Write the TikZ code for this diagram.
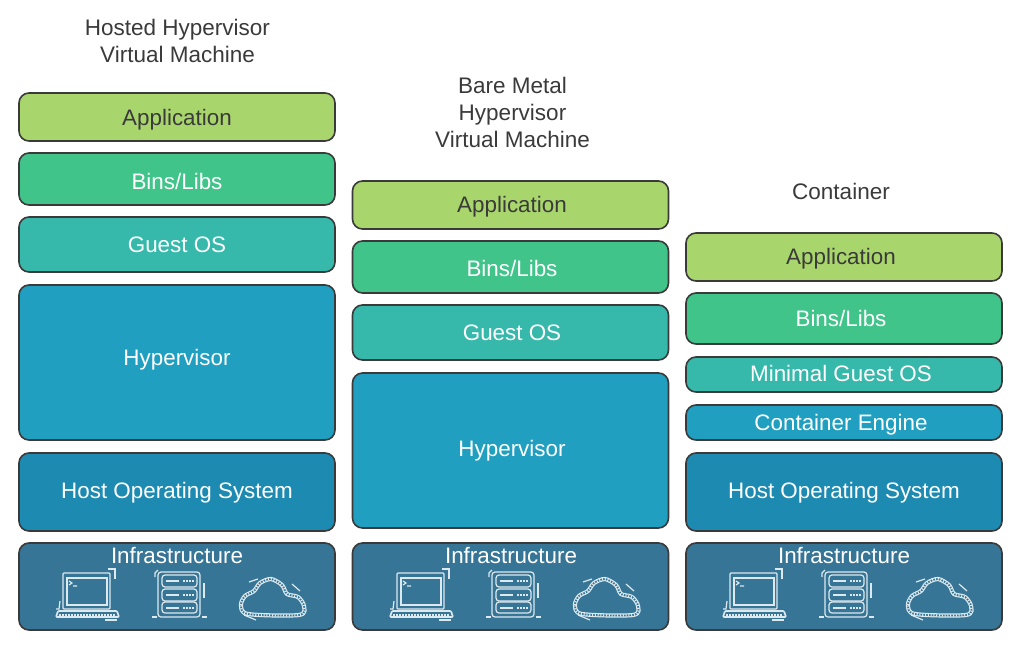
\documentclass[tikz,border=0pt]{standalone}
\usepackage{fontspec}
\setmainfont{Liberation Sans}
\definecolor{appgreen}{HTML}{A9D66C}
\definecolor{binsgreen}{HTML}{40C48A}
\definecolor{guestteal}{HTML}{36B9AB}
\definecolor{hyperblue}{HTML}{209FC0}
\definecolor{hostblue}{HTML}{1D8AB2}
\definecolor{infrablue}{HTML}{367596}
\definecolor{edgegray}{HTML}{3A3A3A}
\definecolor{icongray}{HTML}{DCE9EE}
\tikzset{
  stackbox/.style={draw=edgegray, line width=1.6pt, rounded corners=10pt, minimum width=316pt, text=white, font=\fontsize{22.4}{27}\selectfont, text height=16pt, text depth=5pt, inner sep=0pt},
  title/.style={text=edgegray, align=center, font=\fontsize{22.5}{27}\selectfont},
  iconline/.style={draw=icongray, line width=1.2pt},
  pics/laptopicon/.style={code={
    \draw[iconline, rounded corners=1pt] (8,5) rectangle (55,41);
    \draw[iconline] (12,10) rectangle (52,37);
    \draw[iconline] (14,13) -- (17,15) -- (14,17) (18,18) -- (22,18);
    \draw[iconline, line width=1.6pt, rounded corners=1pt] (1,49) -- (3,43) -- (62,43) -- (64,49) -- cycle;
    \draw[icongray, line width=1.8pt, dash pattern=on 1.5pt off 1.5pt] (4,47) -- (61,47);
    \draw[iconline] (53,1) -- (60,1) -- (60,11);
    \draw[iconline] (1,41) -- (4,41) -- (5,33);
    \draw[iconline] (50,52) -- (62,52);
  }},
  pics/servericon/.style={code={
    \draw[iconline, rounded corners=3pt] (6,2) rectangle (48,47);
    \draw[iconline, rounded corners=3pt] (10,5) rectangle (45,17);
    \draw[iconline, rounded corners=3pt] (10,19) rectangle (45,31);
    \draw[iconline, rounded corners=3pt] (10,32) rectangle (45,43);
    \draw[iconline] (14,11) -- (27,11) (14,25) -- (27,25) (14,38) -- (27,38);
    \draw[iconline, dash pattern=on 1.5pt off 1.5pt] (31,11) -- (42,11) (31,25) -- (42,25) (31,38) -- (42,38);
    \draw[iconline] (0,47) -- (5,47) (50,47) -- (55,47);
    \draw[iconline] (52,13) -- (52,28);
    \draw[iconline] (3,7) -- (3,3) -- (6,0);
  }},
  pics/cloudicon/.style={code={
    \draw[icongray, line width=4.2pt] plot[smooth cycle] coordinates {(8,36) (1,27) (5,18) (14,13) (20,5) (31,1) (42,7) (47,16) (58,19) (64,28) (59,37)};
    \draw[infrablue, line width=1.8pt] plot[smooth cycle] coordinates {(8,36) (1,27) (5,18) (14,13) (20,5) (31,1) (42,7) (47,16) (58,19) (64,28) (59,37)};
    \draw[icongray, line width=2.4pt, dash pattern=on 1pt off 1.8pt] plot[smooth cycle] coordinates {(8,36) (1,27) (5,18) (14,13) (20,5) (31,1) (42,7) (47,16) (58,19) (64,28) (59,37)};
    \draw[iconline] (9,4) -- (18,1) (52,6) -- (60,13) (4,37) -- (16,42);
  }}
}
\begin{document}
\begin{tikzpicture}[x=1pt, y=-1pt]
\useasboundingbox (0,0) rectangle (1021,649);
% first stack
\node[title] (title1) at (177.5,41) {Hosted Hypervisor\\Virtual Machine};
\node[stackbox, fill=appgreen, minimum height=48pt, text=edgegray, text height=22pt] (app1) at (177,117) {Application};
\node[stackbox, fill=binsgreen, minimum height=52pt, text height=26pt] (bins1) at (177,179) {Bins/Libs};
\node[stackbox, fill=guestteal, minimum height=55pt, text height=20pt] (guest1) at (177,244.5) {Guest OS};
\node[stackbox, fill=hyperblue, minimum height=155pt, text height=10pt] (hyper1) at (177,362.5) {Hypervisor};
\node[stackbox, fill=hostblue, minimum height=78pt, text height=18pt] (host1) at (177,492) {Host Operating System};
\node[stackbox, fill=infrablue, minimum height=87pt] (infra1) at (177,586.5) {};
\node[text=white, font=\fontsize{22.4}{27}\selectfont] (infratext1) at (177,555.5) {Infrastructure};
\pic at (55,568) {laptopicon};
\pic at (152,570) {servericon};
\pic at (240,578) {cloudicon};
% second stack
\node[title] (title2) at (512.5,112.5) {Bare Metal\\Hypervisor\\Virtual Machine};
\node[stackbox, fill=appgreen, minimum height=48pt, text=edgegray, text height=20pt] (app2) at (510.5,205) {\hspace*{3pt}Application};
\node[stackbox, fill=binsgreen, minimum height=52pt, text height=24pt] (bins2) at (510.5,267) {\hspace*{3pt}Bins/Libs};
\node[stackbox, fill=guestteal, minimum height=55pt, text height=20pt] (guest2) at (510.5,332.5) {\hspace*{3pt}Guest OS};
\node[stackbox, fill=hyperblue, minimum height=155pt] (hyper2) at (510.5,450.5) {\hspace*{3pt}Hypervisor};
\node[stackbox, fill=infrablue, minimum height=87pt] (infra2) at (510.5,586.5) {};
\node[text=white, font=\fontsize{22.4}{27}\selectfont] (infratext2) at (511,555.5) {Infrastructure};
\pic at (389,568) {laptopicon};
\pic at (486,570) {servericon};
\pic at (574,578) {cloudicon};
% third stack
\node[title] (title3) at (841,191.5) {Container};
\node[stackbox, fill=appgreen, minimum height=48pt, text=edgegray, text height=20pt] (app3) at (844,257) {Application\hspace*{6pt}};
\node[stackbox, fill=binsgreen, minimum height=51pt, text height=20pt] (bins3) at (844,318.5) {Bins/Libs\hspace*{6pt}};
\node[stackbox, fill=guestteal, minimum height=35pt, text height=18pt] (guest3) at (844,374.5) {Minimal Guest OS\hspace*{6pt}};
\node[stackbox, fill=hyperblue, minimum height=35pt, text height=20pt] (engine3) at (844,422.5) {Container Engine\hspace*{6pt}};
\node[stackbox, fill=hostblue, minimum height=78pt, text height=18pt] (host3) at (844,492) {Host Operating System};
\node[stackbox, fill=infrablue, minimum height=87pt] (infra3) at (844,586.5) {};
\node[text=white, font=\fontsize{22.4}{27}\selectfont] (infratext3) at (844,555.5) {Infrastructure};
\pic at (722,568) {laptopicon};
\pic at (819,570) {servericon};
\pic at (907,578) {cloudicon};
\end{tikzpicture}
\end{document}
